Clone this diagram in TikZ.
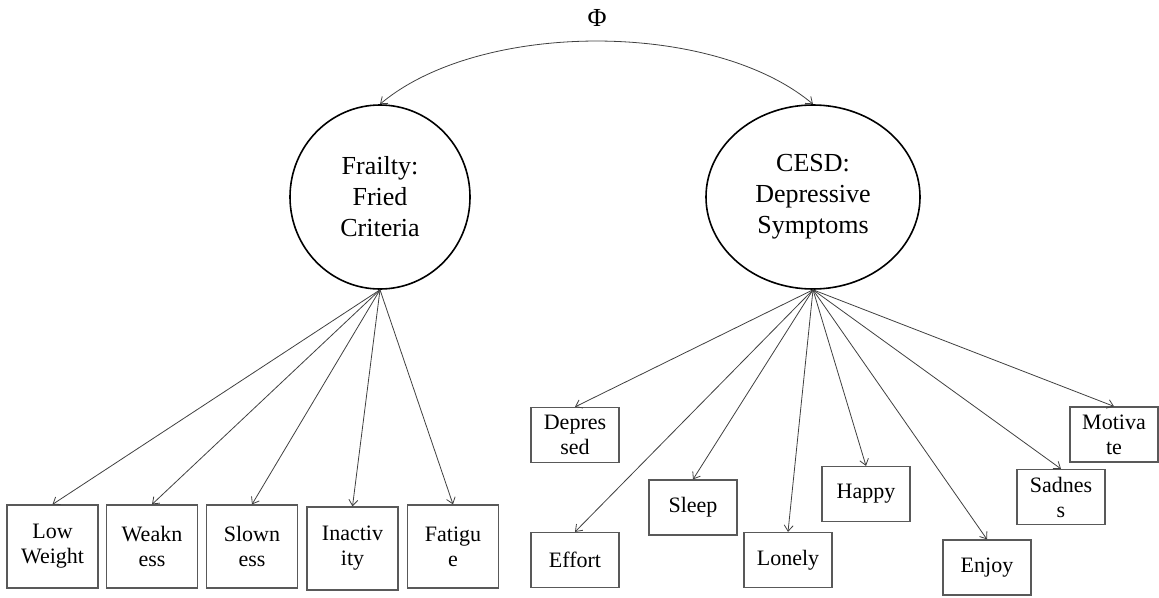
\documentclass[tikz,border=0pt]{standalone}
\usepackage{fontspec}
\setmainfont{Liberation Serif}
\usepackage{tikz}
\usetikzlibrary{arrows.meta,positioning,shapes.geometric}
\tikzset{%
	latent/.style    = {draw, ellipse, line width=1.6pt, inner sep=0pt, align=center, minimum height=184pt, font=\fontsize{26}{31}\selectfont},
	indicator/.style = {draw=black!65, line width=1.2pt, rectangle, inner sep=0pt, align=center, font=\fontsize{22}{25}\selectfont},
	tallbox/.style   = {indicator, minimum width=91pt, minimum height=83pt},
	flatbox/.style   = {indicator, minimum width=88pt, minimum height=55pt},
	arrow/.style     = {draw=black!75, line width=0.8pt, -{Straight Barb[length=6pt,width=9pt]}},
	covar/.style     = {draw=black!75, line width=0.8pt, {Straight Barb[length=6pt,width=9pt]}-{Straight Barb[length=6pt,width=9pt]}},
}
\begin{document}
\begin{tikzpicture}[x=1pt,y=-1pt]
	\useasboundingbox (0,0) rectangle (1159,597);
	% factors
	\node[latent, minimum width=180pt] (frailty) at (380,197) {Frailty:\\Fried\\Criteria};
	\node[latent, minimum width=214pt] (cesd) at (813,197) {CESD:\\Depressive\\Symptoms};
	\node[font=\fontsize{26}{31}\selectfont] (phi) at (597,18) {Φ};
	\draw[covar] (frailty.north) .. controls +(100,-84) and +(-100,-84) .. (cesd.north);
	% frailty items
	\node[tallbox] (lowweight) at (52.5,546.5) {Low\\Weight};
	\node[tallbox] (weakness) at (152,546.5) {Weakn\\ess};
	\node[tallbox] (slowness) at (252,546.5) {Slown\\ess};
	\node[tallbox] (inactivity) at (352.5,548.5) {Inactiv\\ity};
	\node[tallbox] (fatigue) at (453,546.5) {Fatigu\\e};
	% cesd items
	\node[flatbox] (depressed) at (575,435) {Depres\\sed};
	\node[flatbox] (effort) at (575,560) {Effort};
	\node[flatbox] (sleep) at (693,507.5) {Sleep};
	\node[flatbox] (lonely) at (788,560) {Lonely};
	\node[flatbox] (happy) at (866,494) {Happy};
	\node[flatbox] (enjoy) at (987,567.5) {Enjoy};
	\node[flatbox] (sadness) at (1061,497) {Sadnes\\s};
	\node[flatbox] (motivate) at (1114,434.5) {Motiva\\te};
	\foreach \item in {lowweight,weakness,slowness,inactivity,fatigue}
		\draw[arrow] (frailty.south) -- (\item.north);
	\foreach \item in {depressed,effort,sleep,lonely,happy,enjoy,sadness,motivate}
		\draw[arrow] (cesd.south) -- (\item.north);
\end{tikzpicture}
\end{document}
